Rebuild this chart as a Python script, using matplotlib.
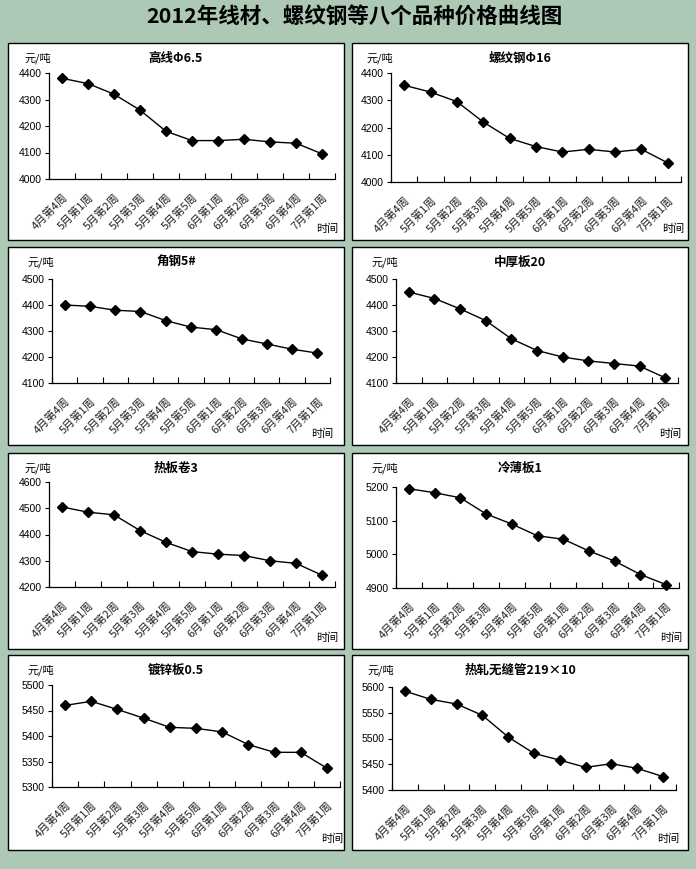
import matplotlib
matplotlib.use("Agg")
import matplotlib.pyplot as plt
from matplotlib.patches import Rectangle
from matplotlib.transforms import ScaledTranslation
import numpy as np

plt.rcParams['font.family'] = ['Liberation Sans', 'Noto Sans CJK SC', 'DejaVu Sans']
CJK = ['Noto Sans CJK SC', 'DejaVu Sans']

# weekly price points, 元/吨
weeks = ['4月第4周', '5月第1周', '5月第2周', '5月第3周', '5月第4周', '5月第5周',
         '6月第1周', '6月第2周', '6月第3周', '6月第4周', '7月第1周']

names = ['高线Φ6.5', '螺纹钢Φ16', '角钢5#', '中厚板20',
         '热板卷3', '冷薄板1', '镀锌板0.5', '热轧无缝管219×10']

gaoxian = [4380, 4360, 4320, 4260, 4180, 4145, 4145, 4150, 4140, 4135, 4095]
luowen = [4355, 4330, 4295, 4220, 4160, 4130, 4110, 4120, 4110, 4120, 4070]
jiaogang = [4400, 4395, 4380, 4375, 4340, 4315, 4305, 4270, 4250, 4230, 4215]
zhonghou = [4450, 4425, 4385, 4340, 4270, 4225, 4200, 4185, 4175, 4165, 4120]
rebanjuan = [4505, 4485, 4475, 4415, 4370, 4335, 4325, 4320, 4300, 4290, 4245]
lengbao = [5195, 5183, 5168, 5120, 5090, 5055, 5045, 5010, 4980, 4940, 4910]
duxin = [5460, 5468, 5452, 5435, 5417, 5415, 5408, 5383, 5368, 5368, 5337]
wufeng = [5592, 5576, 5567, 5545, 5503, 5471, 5458, 5444, 5451, 5442, 5426]

series = [gaoxian, luowen, jiaogang, zhonghou, rebanjuan, lengbao, duxin, wufeng]

# y range (min, max, step) per chart
yranges = [(4000, 4400, 100), (4000, 4400, 100), (4100, 4500, 100), (4100, 4500, 100),
           (4200, 4600, 100), (4900, 5200, 100), (5300, 5500, 50), (5400, 5600, 50)]

W, H = 696, 869
BG = '#adc9b5'
fig = plt.figure(figsize=(W / 100, H / 100), dpi=100, facecolor=BG)

def fx(px):
    return px / W

def fy(py):
    return 1 - py / H

fig.text(fx(354), fy(17), '2012年线材、螺纹钢等八个品种价格曲线图', ha='center', va='center',
         fontsize=15.5, fontweight='bold', family=CJK)

# panel frames (left, right) x (top, bottom) in pixels
cols = [(8, 344), (352, 688)]
rows = [(43, 240), (247, 445), (453, 649), (655, 850)]

# plot areas: left, top, right, bottom (pixels)
areas = [(49, 73, 335, 179), (391, 73, 681, 182),
         (52, 279, 330, 383), (396, 279, 678, 383),
         (49, 482, 335, 587), (396, 487, 679, 588),
         (52, 685, 340, 787), (392, 687, 676, 790)]

x = np.arange(len(weeks))
shift = ScaledTranslation(4 / 72, 0, fig.dpi_scale_trans)

for i in range(8):
    c0, c1 = cols[i % 2]
    r0, r1 = rows[i // 2]
    fig.patches.append(Rectangle((fx(c0), fy(r1)), fx(c1 - c0), (r1 - r0) / H,
                                 transform=fig.transFigure, facecolor='white',
                                 edgecolor='black', linewidth=1.0, zorder=-1))
    l, t, r, b = areas[i]
    ax = fig.add_axes([fx(l), fy(b), fx(r - l), (b - t) / H])
    ax.patch.set_alpha(0)
    ax.plot(x, series[i], color='black', linewidth=1.0, marker='D', markersize=4.6,
            clip_on=False)

    lo, hi, step = yranges[i]
    ax.set_ylim(lo, hi)
    ax.set_yticks(np.arange(lo, hi + 1, step))
    ax.set_xlim(-0.5, len(weeks) - 0.5)
    ax.set_xticks(x)
    ax.set_xticklabels(weeks, rotation=45, ha='right', va='top', rotation_mode='anchor',
                       fontsize=8, family=CJK, color='#222222')
    for lab in ax.get_xticklabels():
        lab.set_transform(lab.get_transform() + shift)
    ax.set_xticks(np.arange(-0.5, len(weeks)), minor=True)
    ax.tick_params(axis='x', which='major', length=0, pad=9)
    ax.tick_params(axis='x', which='minor', direction='in', length=4, width=0.8)
    ax.tick_params(axis='y', direction='out', length=3, width=0.8, labelsize=7.5, pad=2)
    for s in ['top', 'right']:
        ax.spines[s].set_visible(False)
    for s in ['left', 'bottom']:
        ax.spines[s].set_linewidth(0.9)

    fig.text(fx((c0 + c1) / 2), fy(r0 + 15), names[i], ha='center', va='center',
             fontsize=9, fontweight='bold', family=CJK)
    fig.text(fx(l + 2), fy(r0 + 15), '元/吨', ha='right', va='center',
             fontsize=8, family=CJK)
    fig.text(fx(r + 3), fy(r1 - 11), '时间', ha='right', va='center',
             fontsize=8, family=CJK)

fig.savefig('out.png', dpi=100, facecolor=BG)
